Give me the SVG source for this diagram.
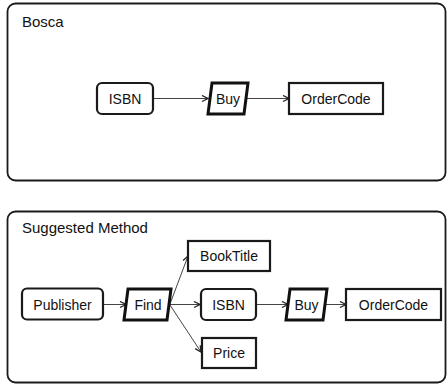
<svg xmlns="http://www.w3.org/2000/svg" width="448" height="387" viewBox="0 0 448 387">
<defs>
<style>
.frame{fill:#fff;stroke:#1a1a1a;stroke-width:1.8}
.box{fill:#fff;stroke:#1a1a1a;stroke-width:2.2}
.proc{fill:#fff;stroke:#111;stroke-width:3}
.lbl{font-family:"Liberation Sans",Arial,sans-serif;font-size:14px;fill:#111;text-anchor:middle}
.title{font-family:"Liberation Sans",Arial,sans-serif;font-size:15px;fill:#111}
.conn{stroke:#444;stroke-width:1;fill:none;marker-end:url(#arr)}
</style>
<marker id="arr" viewBox="0 0 8 8" refX="7" refY="4" markerWidth="8" markerHeight="8" markerUnits="userSpaceOnUse" orient="auto">
<path d="M1,1 L7,4 L1,7" fill="none" stroke="#222" stroke-width="1.3"/>
</marker>
</defs>
<rect width="448" height="387" fill="#fff"/>
<g id="frame-bosca">
<rect class="frame" x="7.5" y="3.5" width="438" height="177" rx="8"/>
<text class="title" x="22" y="27">Bosca</text>
</g>
<g id="frame-suggested">
<rect class="frame" x="7.5" y="211.5" width="438" height="171" rx="8"/>
<text class="title" x="22" y="233">Suggested Method</text>
</g>
<g id="connectors">
<line class="conn" x1="154" y1="98.5" x2="208" y2="98.5"/>
<line class="conn" x1="247" y1="98.5" x2="289" y2="98.5"/>
<line class="conn" x1="104" y1="304.5" x2="126" y2="304.5"/>
<line class="conn" x1="170" y1="304" x2="188" y2="256"/>
<line class="conn" x1="170" y1="304.5" x2="200" y2="304.5"/>
<line class="conn" x1="170" y1="305" x2="201" y2="352"/>
<line class="conn" x1="257" y1="304.5" x2="288" y2="304.5"/>
<line class="conn" x1="325" y1="304.5" x2="346" y2="304.5"/>
</g>
<g id="bosca-isbn">
<rect class="box" x="97" y="83" width="56" height="31" rx="5"/>
<text class="lbl" x="125" y="103.5">ISBN</text>
</g>
<g id="bosca-buy">
<polygon class="proc" points="212,83 248,83 244,114 208,114"/>
<text class="lbl" x="228" y="103.5">Buy</text>
</g>
<g id="bosca-ordercode">
<rect class="box" x="289" y="83" width="94" height="31"/>
<text class="lbl" x="336" y="103.5">OrderCode</text>
</g>
<g id="publisher">
<rect class="box" x="22" y="288.5" width="81" height="31" rx="5"/>
<text class="lbl" x="62.5" y="309.5">Publisher</text>
</g>
<g id="find">
<polygon class="proc" points="128,289 171,289 167,320 124,320"/>
<text class="lbl" x="148" y="309.5">Find</text>
</g>
<g id="booktitle">
<rect class="box" x="188" y="241" width="82" height="30"/>
<text class="lbl" x="229" y="261">BookTitle</text>
</g>
<g id="isbn">
<rect class="box" x="201" y="289" width="55" height="31" rx="5"/>
<text class="lbl" x="228.5" y="309.5">ISBN</text>
</g>
<g id="price">
<rect class="box" x="202" y="338" width="54" height="30"/>
<text class="lbl" x="229" y="358">Price</text>
</g>
<g id="buy">
<polygon class="proc" points="290,289 327,289 323,320 286,320"/>
<text class="lbl" x="306.5" y="309.5">Buy</text>
</g>
<g id="ordercode">
<rect class="box" x="346" y="289" width="95" height="31"/>
<text class="lbl" x="393.5" y="309.5">OrderCode</text>
</g>
</svg>
